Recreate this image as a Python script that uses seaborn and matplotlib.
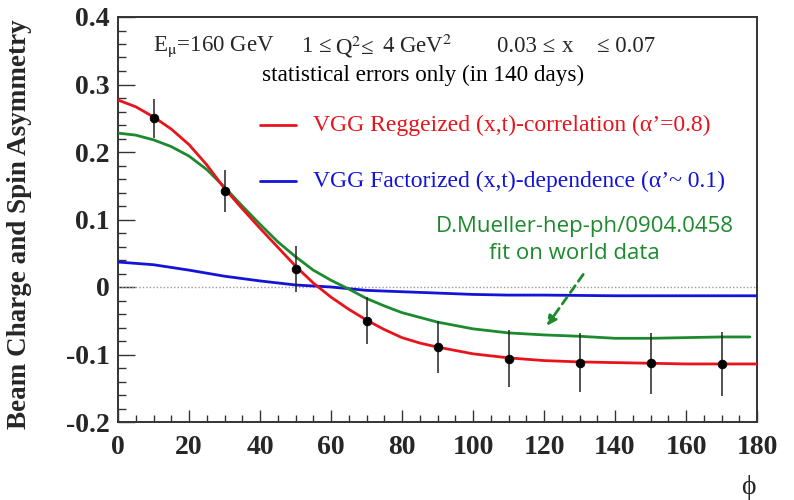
import numpy as np
import pandas as pd
import matplotlib
matplotlib.use("Agg")
import matplotlib.pyplot as plt
import seaborn as sns
from matplotlib.ticker import MultipleLocator

# ---- data ----
phi_points = [10, 30, 50, 70, 90, 110, 130, 150, 170]
asym_points = [0.250, 0.142, 0.027, -0.050, -0.089, -0.106, -0.112, -0.113, -0.114]
asym_errors = [0.029, 0.031, 0.034, 0.035, 0.038, 0.042, 0.044, 0.045, 0.047]

phi_red = [0, 5, 10, 15, 20, 25, 30, 35, 40, 45, 50, 55, 60, 65, 70, 75, 80, 85, 90,
           100, 110, 120, 130, 140, 150, 160, 170, 180]
red_curve = [0.277, 0.267, 0.252, 0.234, 0.211, 0.181, 0.146, 0.116, 0.087, 0.059, 0.031,
             0.006, -0.015, -0.033, -0.049, -0.063, -0.075, -0.083, -0.089,
             -0.099, -0.105, -0.109, -0.111, -0.112, -0.113, -0.114, -0.114, -0.114]

phi_green = [0, 5, 10, 15, 20, 25, 30, 35, 40, 45, 50, 55, 60, 65, 70, 75, 80, 85, 90,
             100, 110, 120, 130, 140, 150, 160, 170, 178]
green_curve = [0.228, 0.225, 0.218, 0.208, 0.194, 0.174, 0.148, 0.120, 0.093, 0.067, 0.045,
               0.025, 0.010, -0.003, -0.017, -0.028, -0.038, -0.045, -0.052,
               -0.062, -0.068, -0.071, -0.073, -0.076, -0.076, -0.075, -0.074, -0.074]

phi_blue = [0, 10, 20, 30, 40, 50, 60, 70, 80, 90, 100, 110, 120, 140, 160, 180]
blue_curve = [0.037, 0.033, 0.025, 0.016, 0.009, 0.003, 0.000, -0.005, -0.007, -0.009,
              -0.011, -0.012, -0.012, -0.013, -0.013, -0.013]

x_ticks = [0, 20, 40, 60, 80, 100, 120, 140, 160, 180]
y_ticks = [-0.2, -0.1, 0, 0.1, 0.2, 0.3, 0.4]
y_tick_labels = ["-0.2", "-0.1", "0", "0.1", "0.2", "0.3", "0.4"]

RED = "#e8141c"
BLUE = "#1414d8"
GREEN = "#1d8a2e"

sns.set_style("ticks")
plt.rcParams["font.family"] = ["Liberation Serif", "DejaVu Serif"]
plt.rcParams["mathtext.fontset"] = "stix"

fig = plt.figure(figsize=(7.94, 5.0), dpi=100)
ax = fig.add_axes([118 / 794, 1 - 422 / 500, 639 / 794, 405 / 500])

df_red = pd.DataFrame({"phi": phi_red, "A": red_curve})
df_blue = pd.DataFrame({"phi": phi_blue, "A": blue_curve})
df_green = pd.DataFrame({"phi": phi_green, "A": green_curve})
df_pts = pd.DataFrame({"phi": phi_points, "A": asym_points, "err": asym_errors})

ax.axhline(0, color="#999999", lw=1.0, ls=(0, (1, 1.5)), zorder=1)

sns.lineplot(data=df_blue, x="phi", y="A", ax=ax, color=BLUE, lw=2.0, zorder=3)
sns.lineplot(data=df_green, x="phi", y="A", ax=ax, color=GREEN, lw=2.0, zorder=3)
sns.lineplot(data=df_red, x="phi", y="A", ax=ax, color=RED, lw=2.0, zorder=4)

ax.errorbar(df_pts["phi"], df_pts["A"], yerr=df_pts["err"], fmt="none",
            ecolor="#222222", elinewidth=1.1, capsize=0, zorder=5)
sns.scatterplot(data=df_pts, x="phi", y="A", ax=ax, color="black", s=40,
                edgecolor="black", zorder=6)

ax.set_xlim(0, 180)
ax.set_ylim(-0.2, 0.4)
ax.set_xticks(x_ticks)
ax.set_xticklabels([str(v) for v in x_ticks])
ax.set_yticks(y_ticks)
ax.set_yticklabels(y_tick_labels)
ax.xaxis.set_minor_locator(MultipleLocator(5))
ax.yaxis.set_minor_locator(MultipleLocator(0.02))
ax.tick_params(which="both", direction="in", top=False, right=False, width=1.0, color="#333333")
ax.tick_params(which="major", axis="x", length=9, pad=9)
ax.tick_params(which="minor", axis="x", length=5)
ax.tick_params(which="major", axis="y", length=12, pad=6)
ax.tick_params(which="minor", axis="y", length=6)
for lab in ax.get_xticklabels() + ax.get_yticklabels():
    lab.set_fontsize(20)
    lab.set_fontweight("bold")
for sp in ax.spines.values():
    sp.set_visible(True)
    sp.set_linewidth(1.4)
    sp.set_color("#333333")

ax.set_xlabel("")
ax.set_ylabel("Beam Charge and Spin Asymmetry", fontsize=19.5, fontweight="bold")
ax.yaxis.set_label_coords(-0.135, 0.489)

# text block (pieces placed where the reference shows them)
top_y = 0.356
ax.text(9.9, top_y, r"E$_{\mathrm{\mu}}$=160 GeV", fontsize=16.5, va="center", ha="left")
ax.text(51.8, top_y, "1 ≤", fontsize=16.5, va="center", ha="left")
ax.text(61.1, top_y, r"Q$^{2}$≤", fontsize=16.5, va="center", ha="left")
ax.text(74.4, top_y, r"4 GeV$^{2}$", fontsize=16.5, va="center", ha="left")
ax.text(106.8, top_y, "0.03 ≤", fontsize=16.5, va="center", ha="left")
ax.text(125.1, top_y, "x", fontsize=16.5, va="center", ha="left")
ax.text(134.9, top_y, "≤ 0.07", fontsize=16.5, va="center", ha="left")
ax.text(40.6, 0.314, "statistical errors only (in 140 days)", fontsize=16.7, va="center",
        ha="left", color="black")

# legend-like entries
ax.plot([40, 50], [0.240, 0.240], color=RED, lw=2.0)
ax.text(55, 0.240, "VGG Reggeized (x,t)-correlation (α’=0.8)", fontsize=17,
        color=RED, va="center", ha="left")
ax.plot([40, 50], [0.157, 0.157], color=BLUE, lw=2.0)
ax.text(55, 0.157, "VGG Factorized (x,t)-dependence (α’~ 0.1)", fontsize=17,
        color=BLUE, va="center", ha="left")

# green annotation
ax.text(131.5, 0.089, "D.Mueller-hep-ph/0904.0458", fontsize=16, color=GREEN,
        family=["Open Sans", "DejaVu Sans"], ha="center", va="center")
ax.text(128.6, 0.050, "fit on world data", fontsize=16, color=GREEN,
        family=["Open Sans", "DejaVu Sans"], ha="center", va="center")
ax.annotate("", xy=(120.3, -0.061), xytext=(131.5, 0.022),
            arrowprops=dict(arrowstyle="-|>", color=GREEN, lw=2.0, ls=(0, (3, 2)),
                            mutation_scale=14))

fig.text(748 / 794, 1 - 487 / 500, "ϕ", fontsize=20, ha="center", va="center")

fig.savefig("out.png", dpi=100)
